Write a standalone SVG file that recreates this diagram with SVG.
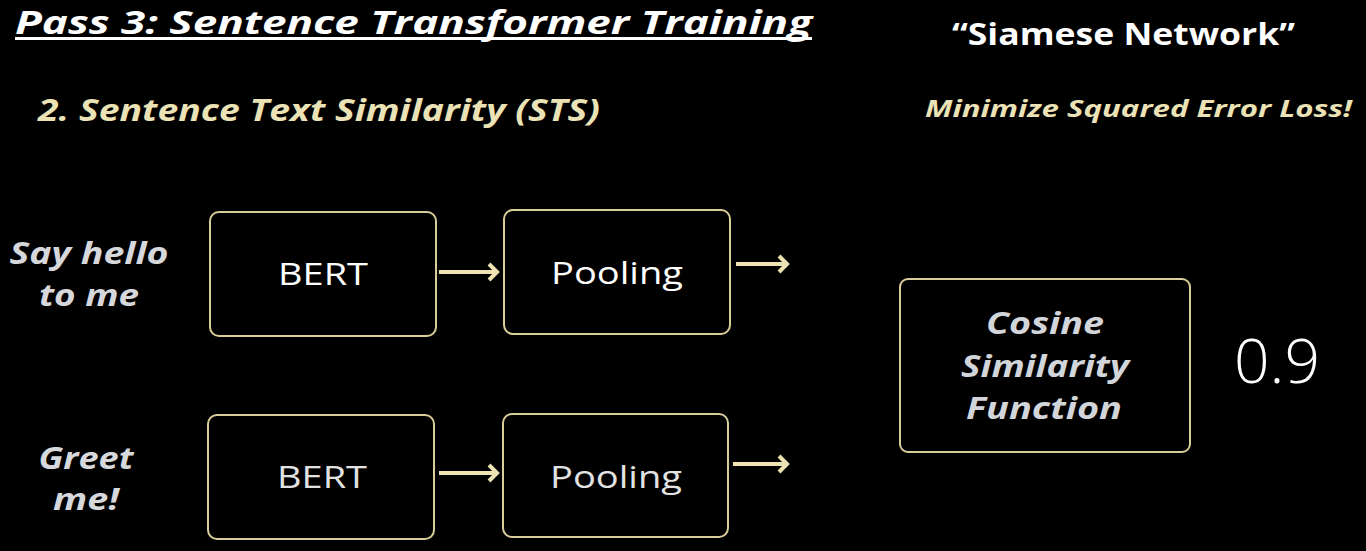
<svg xmlns="http://www.w3.org/2000/svg" width="1366" height="551" viewBox="0 0 1366 551">
  <style>
    .t { font-family: "Open Sans", "Liberation Sans", sans-serif; }
    .title { font-size: 32px; font-weight: 700; font-style: italic; fill: #ffffff; }
    .beige { fill: #ebe2b6; font-style: italic; font-weight: 700; }
    .box { fill: #000000; stroke: #d9cd9c; stroke-width: 2; }
    .lbl { font-size: 31px; font-weight: 500; fill: #ffffff; text-anchor: middle; }
    .lbl2 { font-size: 31px; font-weight: 500; fill: #e2e2e2; text-anchor: middle; }
    .inp { font-size: 31px; font-weight: 700; font-style: italic; fill: #d6d8dc; text-anchor: middle; }
    .cos { font-size: 31px; font-weight: 700; font-style: italic; fill: #d2d5da; text-anchor: middle; }
    .conn { stroke: #eee3b3; stroke-width: 4; fill: none; marker-end: url(#head); }
  </style>
  <defs>
    <marker id="head" viewBox="0 0 14 20" refX="11" refY="10" markerWidth="14" markerHeight="20" markerUnits="userSpaceOnUse" orient="auto">
      <path d="M3,2 L11,10 L3,18" fill="none" stroke="#eee3b3" stroke-width="4"/>
    </marker>
  </defs>
  <rect x="0" y="0" width="1366" height="551" fill="#000000"/>

  <!-- headings -->
  <g id="headings" class="t">
    <text class="title" x="15" y="34" textLength="797" lengthAdjust="spacingAndGlyphs">Pass 3: Sentence Transformer Training</text>
    <rect x="15" y="37" width="797" height="3" fill="#ffffff"/>
    <text x="952" y="45" font-size="30" font-weight="700" fill="#ffffff" textLength="343" lengthAdjust="spacingAndGlyphs">“Siamese Network”</text>
    <text class="beige" x="38" y="121" font-size="31" textLength="562" lengthAdjust="spacingAndGlyphs">2. Sentence Text Similarity (STS)</text>
    <text class="beige" x="925" y="117" font-size="24" textLength="427" lengthAdjust="spacingAndGlyphs">Minimize Squared Error Loss!</text>
  </g>

  <!-- input sentences -->
  <g id="input-a" class="t">
    <text class="inp" x="89" y="264" textLength="159" lengthAdjust="spacingAndGlyphs">Say hello</text>
    <text class="inp" x="89" y="306" textLength="100" lengthAdjust="spacingAndGlyphs">to me</text>
  </g>
  <g id="input-b" class="t">
    <text class="inp" x="86" y="469" textLength="95" lengthAdjust="spacingAndGlyphs">Greet</text>
    <text class="inp" x="86" y="510" textLength="66" lengthAdjust="spacingAndGlyphs">me!</text>
  </g>

  <!-- upper branch -->
  <g id="bert-a" class="t">
    <rect class="box" x="210" y="212" width="226" height="124" rx="9"/>
    <text class="lbl" x="323" y="285" textLength="90" lengthAdjust="spacingAndGlyphs">BERT</text>
  </g>
  <g id="pooling-a" class="t">
    <rect class="box" x="504" y="210" width="226" height="124" rx="9"/>
    <text class="lbl" x="617" y="284" textLength="132" lengthAdjust="spacingAndGlyphs">Pooling</text>
  </g>

  <!-- lower branch -->
  <g id="bert-b" class="t">
    <rect class="box" x="208" y="415" width="226" height="124" rx="9"/>
    <text class="lbl2" x="322" y="488" textLength="90" lengthAdjust="spacingAndGlyphs">BERT</text>
  </g>
  <g id="pooling-b" class="t">
    <rect class="box" x="503" y="414" width="225" height="123" rx="9"/>
    <text class="lbl2" x="616" y="488" textLength="132" lengthAdjust="spacingAndGlyphs">Pooling</text>
  </g>

  <!-- similarity -->
  <g id="cosine" class="t">
    <rect class="box" x="900" y="279" width="290" height="173" rx="8"/>
    <text class="cos" x="1045" y="334" textLength="118" lengthAdjust="spacingAndGlyphs">Cosine</text>
    <text class="cos" x="1045" y="377" textLength="168" lengthAdjust="spacingAndGlyphs">Similarity</text>
    <text class="cos" x="1044" y="419" textLength="156" lengthAdjust="spacingAndGlyphs">Function</text>
  </g>
  <g id="score" class="t">
    <text x="1277" y="383" font-size="60" font-weight="300" fill="#ffffff" text-anchor="middle" textLength="86" lengthAdjust="spacingAndGlyphs">0.9</text>
  </g>

  <!-- connectors -->
  <g id="connectors">
    <line class="conn" x1="439" y1="272" x2="497" y2="272"/>
    <line class="conn" x1="736" y1="264" x2="787" y2="264"/>
    <line class="conn" x1="439" y1="473" x2="497" y2="473"/>
    <line class="conn" x1="733" y1="464" x2="787" y2="464"/>
  </g>
</svg>
